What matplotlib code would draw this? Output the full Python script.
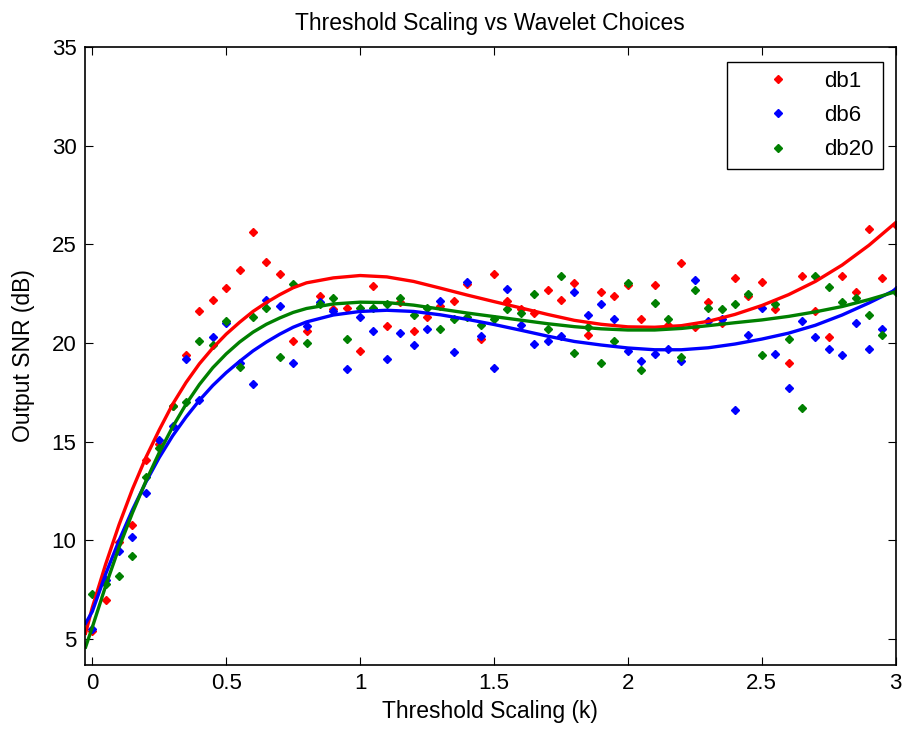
import matplotlib
matplotlib.use('Agg')
import matplotlib.pyplot as plt
import numpy as np

plt.rcParams['font.family'] = ['Liberation Sans', 'DejaVu Sans']

# threshold scaling k, step 0.05
k = np.round(np.arange(0, 61) * 0.05, 2)

snr_db1 = [5.4, 7.0, 9.9, 10.8, 14.1, 14.9, 16.8, 19.4, 21.6, 22.2,
           22.8, 23.7, 25.6, 24.1, 23.5, 20.1, 20.6, 22.4, 21.7, 21.8,
           19.6, 22.9, 20.85, 22.1, 20.6, 21.3, 21.9, 22.15, 23.0, 20.2,
           23.5, 22.15, 21.7, 21.5, 22.7, 22.2, 23.05, 20.4, 22.6, 22.4,
           22.95, 21.2, 22.93, 20.9, 24.05, 20.8, 22.1, 21.0, 23.3, 22.4,
           23.1, 21.7, 19.0, 23.4, 21.6, 20.3, 23.4, 22.6, 25.8, 23.3,
           26.0]
snr_db6 = [5.5, 8.0, 9.45, 10.2, 12.4, 15.1, 15.8, 19.2, 17.1, 20.3,
           21.0, 19.0, 17.95, 22.2, 21.9, 18.97, 20.85, 22.1, 21.6, 18.66,
           21.3, 20.6, 19.2, 20.5, 19.9, 20.7, 22.15, 19.56, 23.1, 20.35,
           18.75, 22.76, 20.9, 19.96, 20.1, 20.35, 22.6, 21.4, 22.0, 21.2,
           19.6, 19.1, 19.47, 19.7, 19.1, 23.2, 21.1, 21.2, 16.6, 20.4,
           21.8, 19.47, 17.7, 21.1, 20.3, 19.7, 19.4, 21.0, 19.7, 20.7,
           22.7]
snr_db20 = [7.3, 7.8, 8.2, 9.2, 13.2, 14.7, 16.8, 17.0, 20.1, 19.9,
            21.1, 18.8, 21.3, 21.8, 19.3, 23.0, 20.0, 22.0, 22.3, 20.2,
            21.8, 21.8, 22.0, 22.3, 21.4, 21.8, 20.7, 21.2, 21.3, 20.9,
            21.2, 21.7, 21.5, 22.5, 20.7, 23.4, 19.5, 20.8, 19.0, 20.1,
            23.05, 18.63, 22.03, 21.2, 19.3, 22.7, 21.8, 21.7, 22.0, 22.5,
            19.4, 22.0, 20.2, 16.7, 23.4, 22.85, 22.1, 22.3, 21.4, 20.4,
            22.6]

# fitted trend curves
fit_k = [-0.025, 0, 0.05, 0.1, 0.15, 0.2, 0.25, 0.3, 0.35, 0.4, 0.45, 0.5,
         0.55, 0.6, 0.65, 0.7, 0.75, 0.8, 0.9, 1.0, 1.1, 1.2, 1.3, 1.4, 1.5,
         1.6, 1.7, 1.8, 1.9, 2.0, 2.1, 2.2, 2.3, 2.4, 2.5, 2.6, 2.7, 2.8,
         2.9, 3.0]
fit_db1 = [5.3, 6.6, 8.8, 10.8, 12.6, 14.2, 15.6, 16.9, 18.0, 18.95, 19.75, 20.45,
           21.05, 21.6, 22.05, 22.45, 22.8, 23.05, 23.3, 23.42, 23.35, 23.12, 22.78,
           22.43, 22.1, 21.78, 21.45, 21.15, 20.95, 20.82, 20.8, 20.88, 21.1, 21.45,
           21.9, 22.45, 23.12, 23.95, 24.95, 26.1]
fit_db6 = [5.8, 6.4, 8.3, 10.0, 11.55, 12.95, 14.2, 15.3, 16.25, 17.1, 17.85, 18.5,
           19.07, 19.6, 20.05, 20.45, 20.8, 21.07, 21.42, 21.6, 21.66, 21.6, 21.43,
           21.2, 20.94, 20.65, 20.35, 20.08, 19.9, 19.75, 19.66, 19.66, 19.76, 19.95,
           20.2, 20.5, 20.9, 21.42, 22.03, 22.7]
fit_db20 = [4.6, 5.6, 7.7, 9.65, 11.4, 13.0, 14.45, 15.75, 16.9, 17.9, 18.75, 19.45,
            20.05, 20.55, 20.95, 21.27, 21.55, 21.75, 21.98, 22.07, 22.05, 21.92, 21.72,
            21.52, 21.34, 21.16, 20.98, 20.83, 20.72, 20.66, 20.66, 20.74, 20.88,
            21.03, 21.17, 21.35, 21.58, 21.85, 22.2, 22.6]

labels = ['db1', 'db6', 'db20']
colors = ['#ff0000', '#0000ff', '#008000']
xticks = [0, 0.5, 1, 1.5, 2, 2.5, 3]
xticklabels = ['0', '0.5', '1', '1.5', '2', '2.5', '3']
yticks = [5, 10, 15, 20, 25, 30, 35]

fig = plt.figure(figsize=(9.02, 7.33), dpi=100)
ax = fig.add_axes([0.094, 0.093, 0.899, 0.843])

series = [snr_db1, snr_db6, snr_db20]
fits = [fit_db1, fit_db6, fit_db20]
for y, lab, c in zip(series, labels, colors):
    ax.plot(k, y, linestyle='none', marker='D', markersize=4.5, color=c, label=lab)
for f, c in zip(fits, colors):
    ax.plot(fit_k, f, color=c, linewidth=2.4, solid_joinstyle='round')

ax.set_xlim(-0.028, 3.0)
ax.set_ylim(3.7, 35)
ax.set_xticks(xticks)
ax.set_xticklabels(xticklabels)
ax.set_yticks(yticks)
ax.tick_params(direction='in', top=True, right=True, labelsize=16, length=6, pad=6)
for s in ax.spines.values():
    s.set_linewidth(1.2)

ax.set_title('Threshold Scaling vs Wavelet Choices', fontsize=16.5, pad=12)
ax.set_xlabel('Threshold Scaling (k)', fontsize=16.5, labelpad=4)
ax.set_ylabel('Output SNR (dB)', fontsize=16.5, labelpad=12)

leg = ax.legend(loc='upper right', bbox_to_anchor=(0.984, 0.976), borderaxespad=0,
                fontsize=16, fancybox=False, framealpha=1, edgecolor='black',
                markerscale=0.8, handletextpad=0.2, borderpad=0.4,
                labelspacing=0.6, handlelength=3.8)
leg.get_frame().set_linewidth(1.0)

fig.savefig('out.png', dpi=100)
